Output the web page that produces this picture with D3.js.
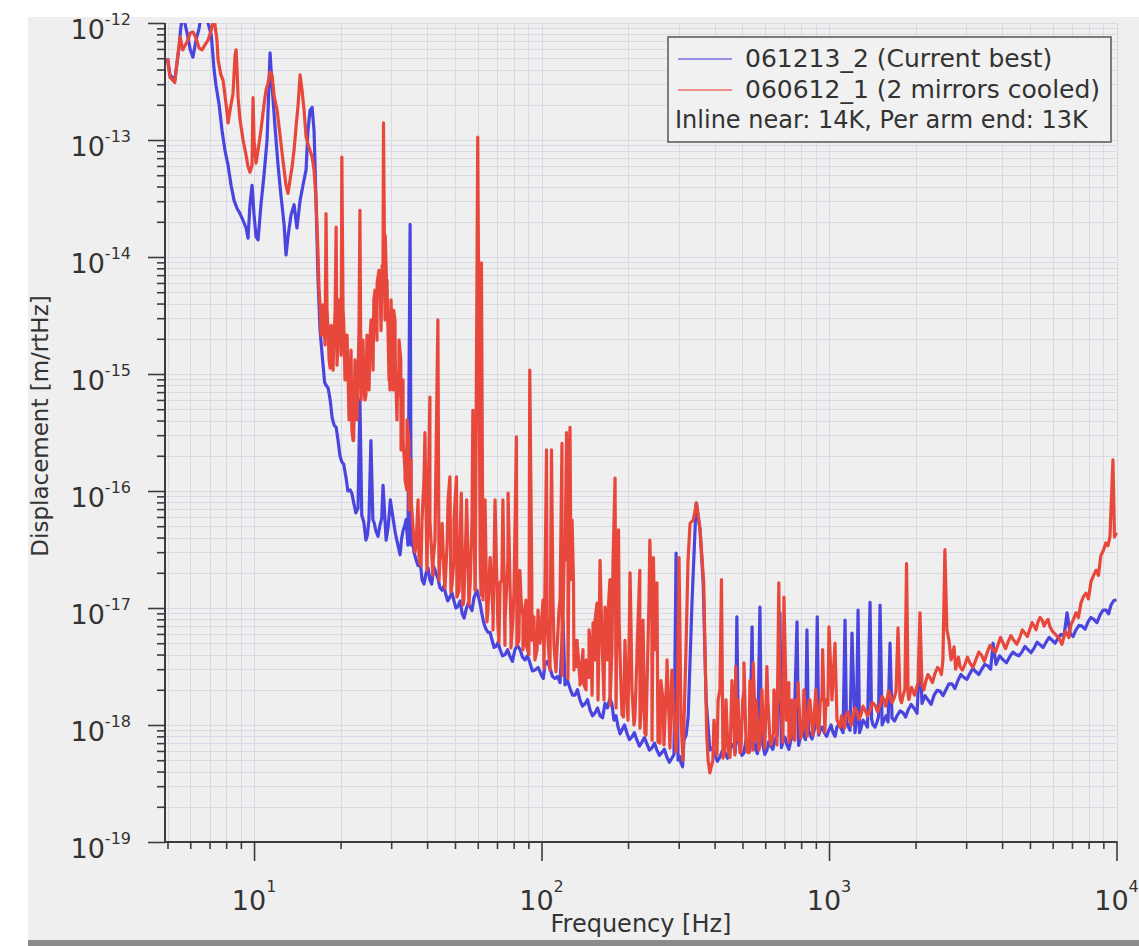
<!DOCTYPE html>
<html>
<head>
<meta charset="utf-8">
<script src="https://cdn.jsdelivr.net/npm/d3@7.9.0/dist/d3.min.js"></script>
<style>
  body { margin: 0; background: #fff; }
  svg { display: block; font-family: "DejaVu Sans", sans-serif; }
</style>
</head>
<body>
<svg id="chart" width="1139" height="946"></svg>
<script>
// Displacement noise spectra, [frequency Hz, displacement m/rtHz]
const blueSeries = [
  [5.0,5.0e-13],[5.1,3.6e-13],[5.3,3.25e-13],[5.5,6.5e-13],[5.55,8.7e-13],[5.65,1.2e-12],[5.85,8.2e-13],[6.0,5.9e-13],[6.13,5.1e-13],[6.28,7.1e-13],[6.44,9.0e-13],[6.54,1.15e-12],[6.75,1.2e-12],[6.92,1.0e-12],[7.1,7.9e-13],[7.26,4.0e-13],[7.37,2.95e-13],[7.56,2.0e-13],[7.74,1.2e-13],[7.92,8.2e-14],[8.12,6.1e-14],[8.32,4.1e-14],[8.52,3.05e-14],[8.73,2.6e-14],[8.94,2.35e-14],[9.16,2.05e-14],[9.38,1.77e-14],[9.53,1.45e-14],[9.68,2.8e-14],[9.84,4.1e-14],
  [10.0,2.3e-14],[10.16,1.5e-14],[10.33,1.4e-14],[10.57,2.8e-14],[10.83,5.0e-14],[11.1,1.0e-13],[11.27,2.95e-13],[11.37,5.55e-13],[11.55,2.95e-13],[11.83,1.29e-13],[12.12,6.1e-14],[12.4,3.4e-14],[12.72,1.9e-14],[12.92,1.04e-14],[13.13,1.5e-14],[13.45,2.3e-14],[13.78,2.8e-14],[14.1,1.77e-14],[14.46,3.05e-14],[14.8,4.1e-14],[15.17,5.55e-14],[15.4,1.2e-13],[15.66,1.8e-13],[15.92,1.9e-13],[16.17,1.2e-13],[16.43,3.05e-14],[16.7,6.3e-15],[16.97,2.35e-15],[17.38,1.19e-15],[17.8,8.0e-16],
  [18.4,6.0e-16],[19.0,3.65e-16],[19.6,2.7e-16],[20.2,1.77e-16],[20.9,1.29e-16],[21.6,1.02e-16],[22.3,7.6e-17],[23.0,7.1e-17],[23.35,6.0e-16],[23.7,6.2e-17],[24.5,3.8e-17],[25.1,5.7e-17],[25.5,2.7e-16],[25.9,5.7e-17],[26.5,4.6e-17],[27.4,5.1e-17],[28.1,1.12e-16],[28.8,3.8e-17],[29.8,8.4e-17],[30.5,5.7e-17],[31.2,4.05e-17],[32.2,2.85e-17],[33.0,4.6e-17],[33.8,5.7e-17],[34.3,3.45e-17],[34.9,1.9e-14],[35.2,3.45e-17],[36.0,3.0e-17],[37.2,2.3e-17],[38.4,1.75e-17],
  [39.7,2.0e-17],[40.9,1.75e-17],[42.2,2.25e-17],[43.6,1.8e-17],[45.1,1.42e-17],[46.5,1.29e-17],[48.0,1.24e-17],[49.6,1.15e-17],[51.3,1.04e-17],[53.0,8.9e-18],[54.7,9.8e-18],[56.5,1.02e-17],[58.2,1.22e-17],[59.6,1.42e-17],[61.2,1.08e-17],[63.1,7.3e-18],[65.1,6.2e-18],[67.3,5.3e-18],[69.5,4.7e-18],[71.8,4.4e-18],[74.7,4.0e-18],[77.7,3.85e-18],[80.8,4.4e-18],[84.2,4.4e-18],[87.6,3.6e-18],[91.0,3.45e-18],[94.9,2.95e-18],
  [100,2.65e-18],[102.8,3.3e-18],[107,3.05e-18],[111.4,2.5e-18],[116,2.3e-18],[118.8,7.9e-18],[120.7,2.2e-18],[125.6,2.05e-18],[130.8,1.8e-18],[136,1.64e-18],[141.7,1.52e-18],[147.5,1.34e-18],[153.5,1.27e-18],[159.8,1.2e-18],[166.3,1.53e-18],[173,1.7e-18],[178.6,1.1e-18],[184.6,9.6e-19],[190.6,9.1e-19],[198.2,8.5e-19],[206.3,7.9e-19],[214.6,7.45e-19],[223.5,7.15e-19],[232.6,6.9e-19],[242,6.35e-19],[252,6.1e-19],[262,5.8e-19],[273,5.3e-19],[284,5.2e-19],[293.8,2.95e-17],[298.5,5.0e-19],
  [306,4.7e-19],[313,7.45e-19],[323.7,1.17e-18],[334,1.17e-17],[345,7.9e-17],[356,4.65e-17],[365,1.64e-17],[373.7,1.64e-18],[385,6.1e-19],[401,5.55e-19],[417,5.3e-19],[434,5.9e-19],[453,6.1e-19],[467,6.75e-19],[478,8.4e-18],[490,6.35e-19],[506,5.8e-19],[522,6.75e-19],[540,6.9e-18],[553,6.35e-19],[575,1.02e-17],[589,6.75e-19],[608,6.1e-19],[627,6.6e-19],[648,7.45e-19],[675,9.1e-18],[691,7.15e-19],[714,6.75e-19],[737,7.45e-19],[774,7.6e-18],[793,7.7e-19],[818,8.2e-19],[838,6.5e-18],[859,8.2e-19],[888,9.1e-19],[910,8.4e-18],[932,9.1e-19],[963,8.6e-19],
  [1000,9.1e-19],[1033,8.6e-19],[1066,9.6e-19],[1101,9.4e-19],[1137,7.9e-18],[1164,9.8e-19],[1202,6.1e-18],[1231,8.6e-19],[1262,9.6e-18],[1292,9.4e-19],[1334,1.04e-18],[1389,1.12e-17],[1423,1.0e-18],[1469,1.06e-18],[1505,1.06e-17],[1554,1.1e-18],[1605,1.06e-18],[1630,5.0e-18],[1656,1.15e-18],[1724,1.2e-18],[1810,1.27e-18],[1884,1.34e-18],[1976,1.39e-18],[2072,4.1e-18],[2106,1.53e-18],[2210,1.64e-18],[2320,1.8e-18],[2433,1.95e-18],[2552,2.0e-18],[2676,2.25e-18],[2808,2.4e-18],[2945,2.55e-18],
  [3090,2.75e-18],[3241,2.85e-18],[3400,3.0e-18],[3567,3.2e-18],[3720,5.0e-18],[3809,3.3e-18],[4034,3.6e-18],[4256,3.85e-18],[4469,4.0e-18],[4690,4.2e-18],[4920,4.4e-18],[5170,4.55e-18],[5420,4.85e-18],[5690,5.1e-18],[5970,5.3e-18],[6260,5.55e-18],[6570,5.8e-18],[6730,9.1e-18],[6890,6.1e-18],[7230,6.5e-18],[7590,7.0e-18],[7960,7.6e-18],[8340,8.0e-18],[8760,8.7e-18],[9200,9.6e-18],[9570,1.06e-17],[10000,1.17e-17]
];

// upper / lower edges of the noisy blue band, read between the points above
const blueBandEdges = [
  [17.6,8.5e-16],[18.1,7.6e-16],[18.7,4.2e-16],[19.3,3.5e-16],[19.9,2.0e-16],[20.5,1.7e-16],[21.2,1.0e-16],[21.9,9.5e-17],[22.6,6.5e-17],[24.1,5.4e-17],[24.8,4.2e-17],[26.2,5.3e-17],[27.0,4.1e-17],[27.8,5.8e-17],[29.3,5.0e-17],[30.1,7.0e-17],[30.9,4.6e-17],[31.7,3.4e-17],[32.6,3.9e-17],[33.4,5.0e-17],[35.6,3.9e-17],[36.6,2.6e-17],[37.8,2.6e-17],[39.0,1.6e-17],[40.3,2.2e-17],[41.5,1.6e-17],[42.9,2.0e-17],[44.3,1.5e-17],[45.8,1.55e-17],[47.2,1.15e-17],[48.8,1.35e-17],[50.4,1.0e-17],[52.1,1.15e-17],[53.8,8.2e-18],[55.6,1.1e-17],[57.3,9.5e-18],
  [62.1,8.8e-18],[64.1,6.6e-18],[66.2,6.2e-18],[68.4,4.6e-18],[70.6,5.1e-18],[73.2,3.9e-18],[76.2,4.4e-18],[79.2,3.5e-18],[82.5,4.8e-18],[85.9,3.8e-18],[89.3,3.9e-18],[92.9,2.9e-18],[97.4,3.1e-18],
  [101.4,2.5e-18],[104.9,3.5e-18],[109.2,2.6e-18],[113.7,2.6e-18],[123.1,2.4e-18],[128.2,1.8e-18],[133.4,2.0e-18],[138.8,1.45e-18],[144.6,1.65e-18],[150.5,1.2e-18],[156.6,1.4e-18],[163,1.15e-18],[169.6,1.4e-18],[175.8,1.5e-18],[181.6,1.2e-18],[187.6,8.4e-19],[194.4,1.0e-18],[202.2,7.5e-19],[210.4,8.6e-19],[219,6.6e-19],[228,7.8e-19],[237.3,6.1e-19],[247,7.0e-19],[257,5.5e-19],[267.5,6.2e-19],[278.5,4.8e-19],[288.9,5.6e-19],[302,5.4e-19],[309.5,4.4e-19],[318.4,8.2e-19],
  [393,6.4e-19],[409,4.9e-19],[425.5,6.0e-19],[443.5,5.2e-19],[460,6.8e-19],[472,5.8e-19],[484,7.2e-19],[498,5.5e-19],[514,7.4e-19],[530,6.0e-19],[546,7.5e-19],[564,5.7e-19],[582,7.4e-19],[598,5.6e-19],[617.5,7.2e-19],[637.5,6.2e-19],[661,8.2e-19],[683,6.4e-19],[702,7.9e-19],[725,6.2e-19],[755,8.3e-19],[784,6.7e-19],[805,8.8e-19],[828,7.5e-19],[848,9.1e-19],[873,7.6e-19],[899,9.8e-19],[921,8.2e-19],[947,9.6e-19],[981,8.0e-19],
  [1016,1.0e-18],[1049,8.0e-19],[1083,1.02e-18],[1119,8.6e-19],[1150,1.05e-18],[1183,9.0e-19],[1246,1.05e-18],[1277,8.6e-19],[1313,1.1e-18],[1361,9.6e-19],[1406,1.12e-18],[1446,9.6e-19],[1487,1.18e-18],[1530,1.0e-18],[1580,1.2e-18],[1690,1.08e-18],[1767,1.32e-18],[1847,1.17e-18],[1930,1.5e-18],[2024,1.26e-18],[2158,1.78e-18],[2265,1.5e-18],[2376,1.98e-18],[2492,1.78e-18],[2614,2.25e-18],[2742,2.05e-18],[2876,2.7e-18],[3017,2.45e-18],[3165,3.05e-18],[3320,2.7e-18],[3482,3.3e-18],[3650,3.0e-18],
  [3920,3.9e-18],[4144,3.4e-18],[4362,4.2e-18],[4580,3.9e-18],[4805,4.7e-18],[5044,4.15e-18],[5295,5.1e-18],[5555,4.6e-18],[5830,5.6e-18],[6115,5.0e-18],[6415,5.95e-18],[7060,5.7e-18],[7410,7.1e-18],[7775,6.6e-18],[8150,8.3e-18],[8550,7.5e-18],[8980,9.6e-18],[9385,8.9e-18],[9785,1.16e-17]
];

const redSeries = [
  [5.0,5.0e-13],[5.1,3.45e-13],[5.3,3.1e-13],[5.43,5.3e-13],[5.53,7.6e-13],[5.65,5.9e-13],[5.85,6.9e-13],[6.0,8.2e-13],[6.13,8.4e-13],[6.28,7.45e-13],[6.44,6.1e-13],[6.59,5.9e-13],[6.75,6.5e-13],[6.92,7.15e-13],[7.1,8.7e-13],[7.2,1.02e-12],[7.3,1.0e-12],[7.43,7.15e-13],[7.5,4.8e-13],[7.67,3.6e-13],[7.8,3.25e-13],[8.0,2.0e-13],[8.12,1.4e-13],[8.25,1.8e-13],[8.45,2.5e-13],[8.59,5.3e-13],[8.66,5.9e-13],[8.73,3.95e-13],[8.8,2.3e-13],[8.94,1.48e-13],[9.16,1.0e-13],[9.38,7.45e-14],[9.53,5.9e-14],[9.68,5.3e-14],[9.84,6.1e-14],[9.92,2.3e-13],
  [10.0,1.0e-13],[10.16,6.35e-14],[10.33,8.2e-14],[10.57,1.22e-13],[10.83,2.0e-13],[11.0,2.65e-13],[11.18,3.05e-13],[11.37,3.8e-13],[11.55,3.6e-13],[11.74,2.4e-13],[12.03,1.8e-13],[12.31,1.1e-13],[12.6,6.75e-14],[12.92,4.1e-14],[13.13,3.5e-14],[13.34,4.55e-14],[13.56,5.9e-14],[13.78,8.2e-14],[14.0,1.29e-13],[14.23,2.0e-13],[14.46,3.6e-13],[14.69,2.65e-13],[14.93,1.8e-13],[15.17,1.06e-13],[15.53,8.7e-14],[15.92,7.15e-14],[16.17,5.55e-14],[16.43,3.05e-14],[16.7,1.04e-14],[16.97,3.9e-15],
  [17.24,2.15e-15],[17.52,2.9e-15],[17.8,2.35e-14],[18.1,2.35e-15],[18.4,1.12e-15],[18.7,1.77e-15],[19.0,2.35e-15],[19.3,1.8e-14],[19.6,2.15e-15],[19.9,4.3e-15],[20.2,7.15e-14],[20.5,2.9e-15],[20.9,1.77e-15],[21.2,1.19e-15],[21.6,6.0e-16],[21.9,3.3e-16],[22.2,2.7e-16],[22.5,6.0e-16],[22.8,8.0e-16],[23.35,2.5e-14],[23.7,1.95e-15],[24.1,7.3e-16],[24.5,6.6e-16],[24.9,1.45e-15],[25.3,1.95e-15],[25.7,2.35e-15],[26.1,4.3e-15],[26.8,6.0e-15],[27.4,7.3e-15],[27.9,8.5e-15],
  [28.2,1.4e-13],[28.6,1.53e-14],[29.0,4.3e-15],[29.5,1.32e-15],[29.7,7.3e-16],[30.2,1.95e-15],[30.6,3.5e-15],[31.0,1.32e-15],[31.5,6.0e-16],[31.9,8.9e-16],[32.4,1.32e-15],[33.0,2.7e-16],[33.5,1.5e-16],[34.0,1.02e-16],[34.6,2.7e-16],[35.2,8.4e-17],[35.9,4.05e-17],[36.6,3.45e-17],[37.5,2.55e-17],[38.4,5.65e-17],[39.3,3.15e-16],[40.0,2.4e-17],[40.9,6.35e-16],[42.0,2.55e-17],[42.6,3.8e-17],[43.6,2.9e-15],[44.3,2.55e-17],[45.1,5.3e-17],[45.8,1.9e-17],[47.0,3.8e-17],
  [48.0,1.32e-16],[48.8,1.57e-17],[49.6,2.55e-17],[50.6,1.32e-16],[51.7,1.42e-17],[52.6,9.6e-17],[53.7,1.17e-17],[54.9,8.4e-17],[55.5,2.55e-17],[56.5,1.64e-17],[57.7,4.9e-16],[58.8,1.42e-17],[60.0,1.06e-13],[61.2,2.55e-17],[61.8,8.9e-15],[62.6,1.17e-17],[63.6,8.4e-17],[65.1,9.6e-18],[66.3,2.7e-17],[67.8,8.7e-18],[68.9,8.4e-17],[70.5,7.15e-18],[71.8,1.64e-17],[73.4,8.4e-17],[74.7,7.9e-18],[76.5,9.6e-17],[78.3,6.5e-18],[79.6,8.4e-18],[81.8,2.9e-16],[83.4,5.3e-18],
  [84.9,1.17e-17],[86.2,8.4e-18],[88.5,4.8e-18],[91.0,1.08e-15],[92.6,5.3e-18],[94.1,8.4e-18],[96.5,4.4e-18],[98.8,5.0e-18],[101.2,1.17e-17],[104.1,2.25e-16],[105.3,5.3e-18],[108.3,2.25e-16],[110.5,4.8e-18],[113.2,4.4e-18],[116,1.17e-17],[117.8,2.55e-16],[119.8,2.55e-17],[122.2,3.15e-16],[123.6,5.65e-17],[125.6,3.5e-16],[127.7,5.65e-17],[129.2,1.64e-17],[130.8,5.3e-18],[132.9,3.15e-18],[136.1,2.4e-18],[139.5,2.3e-18],[143,3.6e-18],[146.3,2.55e-18],[148.7,4.4e-18],[151.1,7.45e-18],
  [153.5,3.6e-18],[156,1.1e-17],[158.5,5.3e-18],[159.8,2.55e-17],[162.4,5.3e-18],[166.3,1.02e-17],[168.9,3.6e-18],[173,1.75e-17],[175.8,4.4e-18],[180.2,1.29e-16],[183.1,1.17e-17],[185.3,4.65e-17],[189.1,2.0e-18],[192.9,1.17e-18],[196.8,2.4e-18],[203.2,2.0e-17],[206.3,2.0e-18],[211.3,1.17e-18],[214.6,3.6e-18],[219.7,2.1e-17],[223.5,1.64e-18],[228.8,8.5e-19],[232.6,2.0e-18],[238.1,3.8e-17],[242,7.9e-18],[245,2.7e-17],[248,5.3e-18],[252,1.64e-17],[256.2,1.64e-18],[258.3,7.0e-19],
  [264.6,1.64e-18],[273,2.95e-18],[277.8,1.1e-18],[284,2.95e-18],[289.3,1.1e-18],[296.1,8.5e-19],[300.8,2.7e-17],[305.6,1.1e-18],[310.5,5.0e-19],[318,4.4e-18],[323.3,2.55e-17],[328.6,5.3e-17],[336.9,5.65e-17],[346.2,7.9e-17],[350.7,6.2e-17],[356,4.65e-17],[362.1,2.55e-17],[366.6,1.64e-17],[370.4,4.4e-18],[375.4,8.5e-19],[379.6,5.0e-19],[385.1,3.9e-19],[394.5,5.0e-19],[405.7,7.0e-19],[411.4,1.64e-18],[422.6,1.75e-17],[426,1.64e-18],[434,6.1e-19],[443.7,7.45e-19],[452.6,5.3e-19],
  [465,1.34e-18],[473.6,3.15e-18],[478,7.45e-19],[490,5.8e-19],[501,1.64e-18],[506,3.4e-18],[514,7.45e-19],[527,5.8e-19],[535,1.64e-18],[545,3.4e-18],[556,7.45e-19],[575,7.0e-19],[589,1.1e-18],[608,3.15e-18],[623,7.45e-19],[641,8.5e-19],[655,1.64e-18],[669,1.64e-17],[682,1.64e-18],[697,1.24e-17],[711,1.1e-18],[725,2.3e-18],[737,8.2e-19],[751,8.5e-19],[766,1.64e-18],[780,2.3e-18],[794,9.1e-19],[811,9.6e-19],[827,1.1e-18],[853,1.64e-18],[874,9.4e-19],[908,1.04e-18],[933,1.64e-18],[950,4.4e-18],[975,1.64e-18],
  [1000,6.9e-18],[1024,1.64e-18],[1049,5.0e-18],[1066,1.1e-18],[1092,9.6e-19],[1118,1.06e-18],[1146,1.22e-18],[1183,1.1e-18],[1212,1.17e-18],[1251,1.29e-18],[1292,1.22e-18],[1334,1.34e-18],[1389,1.34e-18],[1446,1.48e-18],[1505,1.48e-18],[1554,1.64e-18],[1592,1.64e-18],[1630,1.8e-18],[1684,1.7e-18],[1738,6.75e-18],[1766,1.7e-18],[1810,1.8e-18],[1861,2.4e-17],[1884,1.8e-18],[1913,1.85e-18],[1960,1.95e-18],[2008,2.0e-18],[2072,9.1e-18],[2106,2.2e-18],[2174,2.4e-18],
  [2244,2.55e-18],[2336,2.75e-18],[2433,2.95e-18],[2490,3.6e-18],[2530,3.15e-17],[2571,6.5e-18],[2614,5.3e-18],[2657,3.6e-18],[2723,4.65e-18],[2790,3.45e-18],[2855,3.15e-18],[2970,3.3e-18],[3090,3.4e-18],[3241,3.6e-18],[3400,3.9e-18],[3543,4.1e-18],[3720,4.4e-18],[3870,4.85e-18],[4034,5.0e-18],[4192,5.1e-18],[4393,5.3e-18],[4614,5.65e-18],[4800,6.1e-18],[4998,6.6e-18],[5170,7.0e-18],[5330,7.6e-18],[5510,7.9e-18],[5690,7.6e-18],[5870,6.9e-18],[6110,6.0e-18],
  [6360,5.3e-18],[6560,5.65e-18],[6720,6.1e-18],[6940,7.15e-18],[7230,9.1e-18],[7520,1.1e-17],[7830,1.34e-17],[8150,1.67e-17],[8490,2.1e-17],[8820,2.8e-17],[9180,3.6e-17],[9490,4.05e-17],[9720,1.85e-16],[9840,4.05e-17],[10000,4.4e-17]
];

// upper / lower edges of the dense red band
const redBandEdges = [
  [16.83,5.2e-15],[17.11,2.15e-15],[17.39,3.9e-15],[17.66,1.77e-15],[17.94,3.5e-15],[18.24,1.32e-15],[18.54,2.6e-15],[18.83,1.08e-15],[19.13,3.2e-15],[19.44,1.19e-15],[19.76,4.3e-15],[20.08,1.45e-15],[20.4,3.5e-15],[20.72,8.9e-16],[21.06,2.15e-15],[21.4,4.05e-16],[21.75,1.6e-15],[22.1,2.7e-16],[22.45,1.32e-15],[22.81,4.05e-16],[23.18,2.35e-15],[23.56,6.0e-16],[23.94,1.95e-15],[24.32,6.0e-16],[24.71,2.15e-15],[25.12,7.3e-16],[25.53,2.9e-15],[25.94,1.08e-15],[26.35,5.2e-15],[26.77,1.95e-15],
  [27.21,7.7e-15],[27.65,2.35e-15],[28.1,8.5e-15],[28.55,2.9e-15],[29.0,6.35e-15],[29.48,8.9e-16],[29.96,4.3e-15],[30.45,7.3e-16],[30.93,2.9e-15],[31.42,4.05e-16],[31.94,1.95e-15],[32.46,2.25e-16],[32.98,8.9e-16],[33.51,1.24e-16],[34.05,4.05e-16],[34.6,6.9e-17],[35.16,1.85e-16],
  [36.3,3.0e-17],[37.2,8.4e-17],[38.1,2.3e-17],[39.0,1.24e-16],[39.95,2.1e-17],[40.9,5.65e-17],[41.9,1.9e-17],[42.9,1.5e-16],[44.0,1.72e-17],[45.05,3.8e-17],[46.15,1.48e-17],[47.3,8.4e-17],[48.4,1.37e-17],[49.6,5.65e-17],[50.8,1.24e-17],[52.0,3.8e-17],[53.3,1.06e-17],[54.6,4.65e-17],[55.9,1.06e-17],[57.3,5.65e-17],[58.7,1.42e-17],
  [61.6,1.29e-17],[63.06,3.8e-17],[64.6,7.6e-18],[66.15,2.55e-17],[67.8,6.5e-18],[69.4,3.8e-17],[71.1,5.1e-18],[72.8,1.75e-17],[74.6,4.8e-18],[76.4,2.55e-17],[78.3,4.55e-18],[80.2,1.42e-17],[82.1,4.8e-18],[84.1,2.1e-17],[86.2,4.4e-18],[88.2,1.17e-17],[90.4,4.0e-18],[92.5,1.75e-17],[94.85,3.6e-18],[97.2,9.6e-18],
  [102,3.05e-18],[104.5,7.9e-18],[107,2.95e-18],[109.6,1.17e-17],[112.3,2.85e-18],[115,9.6e-18],[117.9,2.65e-18],[120.7,2.55e-17],[123.6,2.5e-18],[126.6,1.75e-17],[129.7,2.95e-18],[132.9,5.3e-18],[136.1,2.2e-18],[139.4,4.4e-18],[142.9,2.0e-18],[146.3,6.5e-18],[149.9,1.8e-18],[153.5,7.9e-18],[157.2,1.64e-18],[161,1.17e-17],[164.9,1.64e-18],[169,6.5e-18],[173,1.48e-18],
  [177.3,2.55e-17],[181.7,1.4e-18],[186.1,7.9e-18],[190.6,1.22e-18],[195.1,5.3e-18],[199.9,1.1e-18],[204.6,7.9e-18],[209.7,1.0e-18],[214.9,4.4e-18],[220,9.4e-19],[225.4,7.9e-18],[230.9,8.2e-19],[236.5,1.17e-17],[242.3,7.4e-19],[248.1,4.4e-18],[254.1,7.15e-19],[260.1,2.4e-18],[266.6,6.75e-19],[273.2,3.6e-18],[279.7,6.35e-19],[286.6,2.0e-18],[293.7,5.9e-19],
  [388.6,4.3e-19],[397.9,1.1e-18],[407.7,5.55e-19],[417.4,2.0e-18],[427.7,5.2e-19],[438.2,1.64e-18],[448.8,5.55e-19],[459.6,2.4e-18],[470.6,5.55e-19],[482.1,1.64e-18],[493.5,5.9e-19],[505.9,2.0e-18],[518.3,5.9e-19],[530.7,2.4e-18],[543.7,6.1e-19],[557.2,1.64e-18],[570.6,6.1e-19],[584.3,2.0e-18],[598.3,6.35e-19],[612.8,1.64e-18],
  [627.4,6.75e-19],[643.2,2.0e-18],[659,6.75e-19],[674.7,1.64e-18],[691.2,7.15e-19],[708.3,2.0e-18],[725.3,7.15e-19],[743,1.64e-18],[760.7,7.4e-19],[779.2,1.48e-18],[797.7,7.7e-19],[818,2.0e-18],[838.1,8.0e-19],[858.1,1.64e-18],[878.4,8.2e-19],[900.1,2.0e-18],[921.8,8.5e-19],[944.8,1.64e-18],[967.3,8.7e-19],[990.9,1.48e-18],
  [1105,1.2e-18],[1132,9.4e-19],[1165,1.3e-18],[1197,1.0e-18],[1231,1.4e-18],[1271,1.12e-18],[1313,1.45e-18],[1361,1.2e-18],[1417,1.55e-18],[1475,1.3e-18],[1530,1.75e-18],[1573,1.45e-18],[1610,1.95e-18],[1657,1.55e-18],[1711,1.95e-18],[1788,1.55e-18],[1836,2.0e-18],[1897,1.65e-18],[1936,2.1e-18],[1984,1.8e-18],[2040,2.3e-18],[2139,2.0e-18],[2209,2.7e-18],[2290,2.3e-18],[2384,3.1e-18],[2460,2.7e-18],[2690,4.1e-18],[2757,3.0e-18],[2822,3.8e-18],[2912,2.95e-18],
  [3030,3.8e-18],[3165,3.1e-18],[3320,4.2e-18],[3470,3.5e-18],[3630,4.8e-18],[3795,4.2e-18],[3950,5.6e-18],[4113,4.5e-18],[4290,5.8e-18],[4500,4.9e-18],[4705,6.5e-18],[4900,5.7e-18],[5085,7.5e-18],[5250,6.5e-18],[5420,8.3e-18],[5600,7.0e-18],[5780,8.0e-18],[5990,6.3e-18],[6235,5.7e-18],[6460,4.9e-18],[6640,6.3e-18],[6830,5.6e-18],[7085,8.0e-18],[7375,8.3e-18],[7675,1.25e-17],[7990,1.2e-17],[8320,1.9e-17],[8655,1.9e-17],[9000,3.1e-17],[9335,3.4e-17]
];

const seriesNames = ["061213_2 (Current best)", "060612_1 (2 mirrors cooled)"];
const legendNote = "Inline near: 14K, Per arm end: 13K";
const xDomain = [5, 1e4];
const yDomain = [1e-19, 1e-12];
const xLabelTicks = [10, 100, 1000, 10000];
const yLabelTicks = [1e-19, 1e-18, 1e-17, 1e-16, 1e-15, 1e-14, 1e-13, 1e-12];

const BLUE = "#4a45de";
const RED = "#e8473c";
const AXIS = "#3c3c3c";

const byFreq = (a, b) => a[0] - b[0];
const blueData = blueSeries.concat(blueBandEdges).sort(byFreq);
const redData = redSeries.concat(redBandEdges).sort(byFreq);

const svg = d3.select("#chart");

// page background: white margin, light gray panel, dark strip at bottom
svg.append("rect").attr("width", 1139).attr("height", 946).attr("fill", "#ffffff");
svg.append("rect").attr("x", 28).attr("y", 17).attr("width", 1111).attr("height", 923).attr("fill", "#efefef");
svg.append("rect").attr("x", 28).attr("y", 940).attr("width", 1111).attr("height", 6).attr("fill", "#8b8b8b");

const x = d3.scaleLog().domain(xDomain).range([167.5, 1116.5]);
const y = d3.scaleLog().domain(yDomain).range([842, 23]);
const axisX = 165;

const xTicks = x.ticks();
const yTicks = y.ticks();

// grid
const grid = svg.append("g").attr("stroke", "#d9d9e6").attr("stroke-width", 1);
grid.selectAll("line.v").data(xTicks).join("line")
  .attr("x1", d => Math.round(x(d)) + 0.5).attr("x2", d => Math.round(x(d)) + 0.5)
  .attr("y1", y.range()[1]).attr("y2", y.range()[0]);
grid.selectAll("line.h").data(yTicks).join("line")
  .attr("x1", axisX).attr("x2", x.range()[1])
  .attr("y1", d => Math.round(y(d)) + 0.5).attr("y2", d => Math.round(y(d)) + 0.5);

// curves
svg.append("clipPath").attr("id", "plot-clip")
  .append("rect").attr("x", axisX).attr("y", y.range()[1])
  .attr("width", x.range()[1] - axisX + 2).attr("height", y.range()[0] - y.range()[1]);

const line = d3.line().x(d => x(d[0])).y(d => y(d[1]));
const curves = svg.append("g").attr("clip-path", "url(#plot-clip)")
  .attr("fill", "none").attr("stroke-width", 3.2).attr("stroke-linejoin", "round");
curves.append("path").datum(blueData).attr("stroke", BLUE).attr("d", line);
curves.append("path").datum(redData).attr("stroke", RED).attr("d", line);

// axes
function styleAxis(g) {
  g.select(".domain").remove();
  g.selectAll(".tick line").attr("stroke", AXIS).attr("stroke-width", 1.6);
}
const isMajorX = d => xLabelTicks.includes(d);
const isMajorY = d => Math.abs(Math.log10(d) - Math.round(Math.log10(d))) < 1e-9;

svg.append("g").attr("transform", `translate(0,842)`)
  .call(d3.axisBottom(x).tickValues(xTicks.filter(d => !isMajorX(d))).tickSize(7).tickSizeOuter(0).tickFormat(""))
  .call(styleAxis);
svg.append("g").attr("transform", `translate(0,842)`)
  .call(d3.axisBottom(x).tickValues(xLabelTicks).tickSize(19).tickSizeOuter(0).tickFormat(""))
  .call(styleAxis);
svg.append("g").attr("transform", `translate(${axisX},0)`)
  .call(d3.axisLeft(y).tickValues(yTicks.filter(d => !isMajorY(d))).tickSize(8).tickSizeOuter(0).tickFormat(""))
  .call(styleAxis);
svg.append("g").attr("transform", `translate(${axisX},0)`)
  .call(d3.axisLeft(y).tickValues(yLabelTicks).tickSize(17).tickSizeOuter(0).tickFormat(""))
  .call(styleAxis);

svg.append("line").attr("x1", axisX).attr("x2", x.range()[1] + 1).attr("y1", 842).attr("y2", 842)
  .attr("stroke", AXIS).attr("stroke-width", 2);
svg.append("line").attr("x1", axisX).attr("x2", axisX).attr("y1", y.range()[1]).attr("y2", 842)
  .attr("stroke", AXIS).attr("stroke-width", 2);

// tick labels with superscript exponents
const labelColor = "#333";
const yl = svg.append("g").attr("fill", labelColor);
yLabelTicks.forEach(v => {
  const t = yl.append("text").attr("x", 131).attr("y", y(v) + 16)
    .attr("text-anchor", "end").attr("font-size", 27);
  t.append("tspan").text("10");
  t.append("tspan").attr("dy", -14).attr("font-size", 16).text(Math.round(Math.log10(v)));
});
const xl = svg.append("g").attr("fill", labelColor);
xLabelTicks.forEach(v => {
  const t = xl.append("text").attr("x", x(v)).attr("y", 910)
    .attr("text-anchor", "middle").attr("font-size", 27);
  t.append("tspan").text("10");
  t.append("tspan").attr("dy", -18).attr("font-size", 16).text(Math.round(Math.log10(v)));
});

// axis titles
svg.append("text").attr("x", 641).attr("y", 932).attr("text-anchor", "middle")
  .attr("font-size", 24).attr("fill", labelColor).text("Frequency [Hz]");
svg.append("text").attr("transform", "translate(48,426) rotate(-90)").attr("text-anchor", "middle")
  .attr("font-size", 23).attr("fill", labelColor).text("Displacement [m/rtHz]");

// legend
const legend = svg.append("g");
legend.append("rect").attr("x", 668).attr("y", 37).attr("width", 443).attr("height", 105)
  .attr("fill", "#f1f1f1").attr("stroke", "#555").attr("stroke-width", 1.5);
[BLUE, RED].forEach((c, i) => {
  const ly = 59 + i * 31;
  legend.append("line").attr("x1", 678).attr("x2", 732).attr("y1", ly).attr("y2", ly)
    .attr("stroke", c).attr("stroke-width", 1.6).attr("opacity", 0.75);
  legend.append("text").attr("x", 745).attr("y", 67 + i * 31).attr("font-size", 25)
    .attr("fill", labelColor).text(seriesNames[i]);
});
legend.append("text").attr("x", 675).attr("y", 128).attr("font-size", 24)
  .attr("fill", labelColor).text(legendNote);
</script>
</body>
</html>
